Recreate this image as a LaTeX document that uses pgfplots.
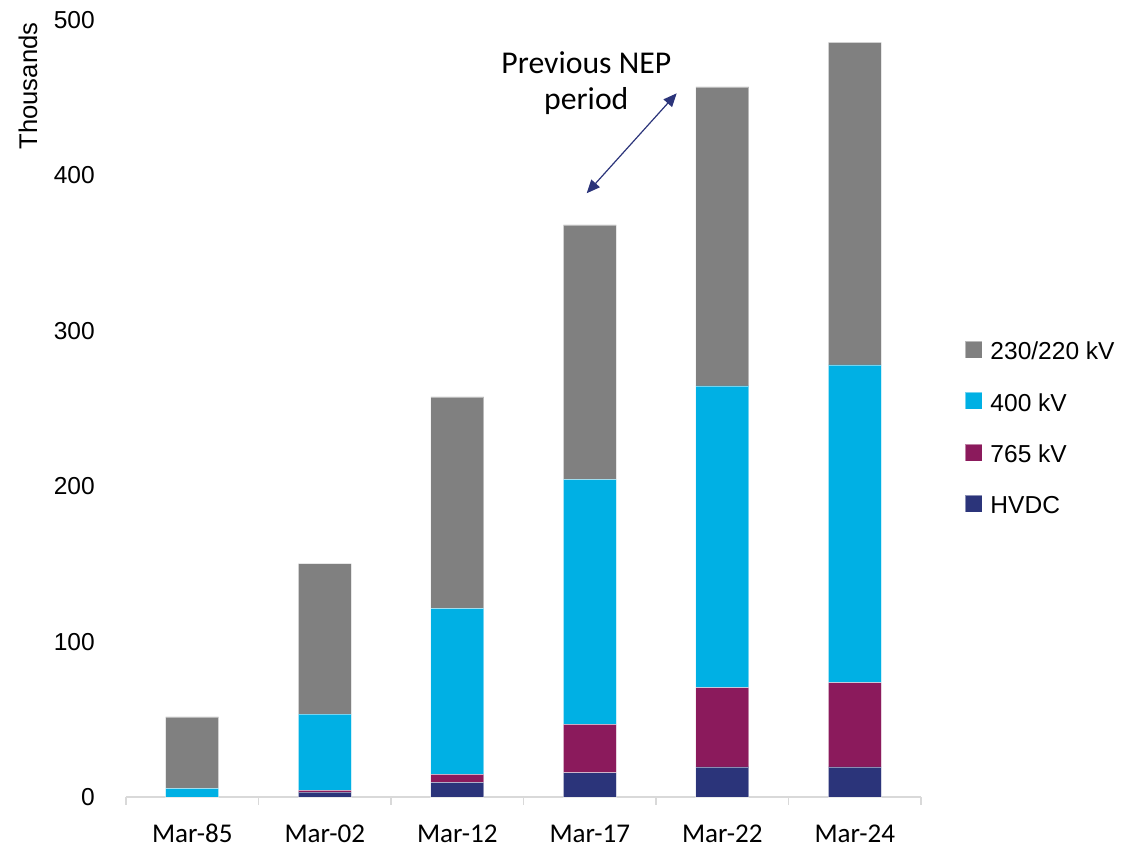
\documentclass[border=0pt]{standalone}
\usepackage{pgfplots}
\usepackage{pgfplotstable}
\pgfplotsset{compat=1.18}
\usepackage{fontspec}
\setmainfont{Liberation Sans}
\newfontfamily\calib{Carlito}
\usetikzlibrary{arrows.meta}

\definecolor{cAC}{HTML}{808080}
\definecolor{cFour}{HTML}{00B0E4}
\definecolor{cSeven}{HTML}{8B1A5C}
\definecolor{cHVDC}{HTML}{2B347A}
\definecolor{axisgrey}{HTML}{D9D9D9}

% Transmission line length by voltage class (thousand ckm)
\pgfplotstableread{
idx hvdc  kv765 kv400 kv220
0   0.0   0.0   5.6   46.0
1   3.1   1.2   49.0  96.8
2   9.4   5.2   106.8 136.0
3   15.6  31.2  157.6 163.7
4   19.4  51.0  194.1 192.4
5   19.4  54.2  204.4 207.6
}\linedata

\pgfplotsset{
  sqlegend/.style={legend image code/.code={\fill[##1] (0pt,-5.25pt) rectangle (12.75pt,7.5pt);}},
  seg/.style={fill=#1, draw=white, draw opacity=0.45, line width=0.4pt, sqlegend},
}

\begin{document}
\begin{tikzpicture}
\useasboundingbox (-94.5pt,-38.25pt) rectangle (748.5pt,597.75pt);
\begin{axis}[
  at={(0pt,0pt)}, anchor=south west,
  scale only axis, width=596.25pt, height=582.75pt,
  xmin=-0.5, xmax=5.5, ymin=0, ymax=500,
  ybar stacked, bar width=0.40,
  clip=false,
  /pgf/number format/assume math mode=true,
  xtick={0,...,5},
  xticklabels={Mar-85,Mar-02,Mar-12,Mar-17,Mar-22,Mar-24},
  minor xtick={-0.5,0.5,...,5.5},
  ytick={0,100,...,500},
  axis x line*=bottom, axis y line*=left,
  y axis line style={draw=none},
  x axis line style={axisgrey, line width=1.1pt},
  major tick length=0pt,
  minor tick length=6pt,
  tick align=outside,
  major tick style={draw=none},
  minor x tick style={axisgrey, line width=1.1pt},
  yticklabel style={font=\fontsize{18.4}{22}\selectfont, inner sep=0pt, anchor=east, xshift=-23.25pt},
  xticklabel style={font=\calib\fontsize{20.3}{24}\selectfont, inner sep=0pt, anchor=base, yshift=-34.5pt},
  ylabel={Thousands},
  ylabel style={at={(rel axis cs:-0.1233,0.915)}, anchor=center, inner sep=0pt, font=\fontsize{19.2}{22}\selectfont},
  reverse legend,
  legend cell align=left,
  legend style={draw=none, fill=none, at={(rel axis cs:1.0553,0.5870)}, anchor=north west,
    inner sep=0pt, outer sep=0pt, row sep=24.2pt, column sep=6pt,
    font=\fontsize{18.4}{22}\selectfont,
    nodes={inner sep=0pt, text height=13.2pt, text depth=0pt}},
]
\addplot[seg=cHVDC]  table[x=idx, y=hvdc]  {\linedata};
\addplot[seg=cSeven] table[x=idx, y=kv765] {\linedata};
\addplot[seg=cFour]  table[x=idx, y=kv400] {\linedata};
\addplot[seg=cAC]    table[x=idx, y=kv220] {\linedata};
\legend{HVDC, 765 kV, 400 kV, 230/220 kV}

% span of the previous National Electricity Plan
\draw[cHVDC, line width=0.9pt, {Triangle[length=10pt,width=8.5pt]}-{Triangle[length=10pt,width=8.5pt]}]
  (axis cs:2.977,388.5) -- (axis cs:3.656,452.8);
\node[font=\calib\fontsize{23.8}{27}\selectfont, align=center, inner sep=0pt]
  at (axis cs:2.974,459.5) {Previous NEP\\period};
\end{axis}
\end{tikzpicture}
\end{document}
